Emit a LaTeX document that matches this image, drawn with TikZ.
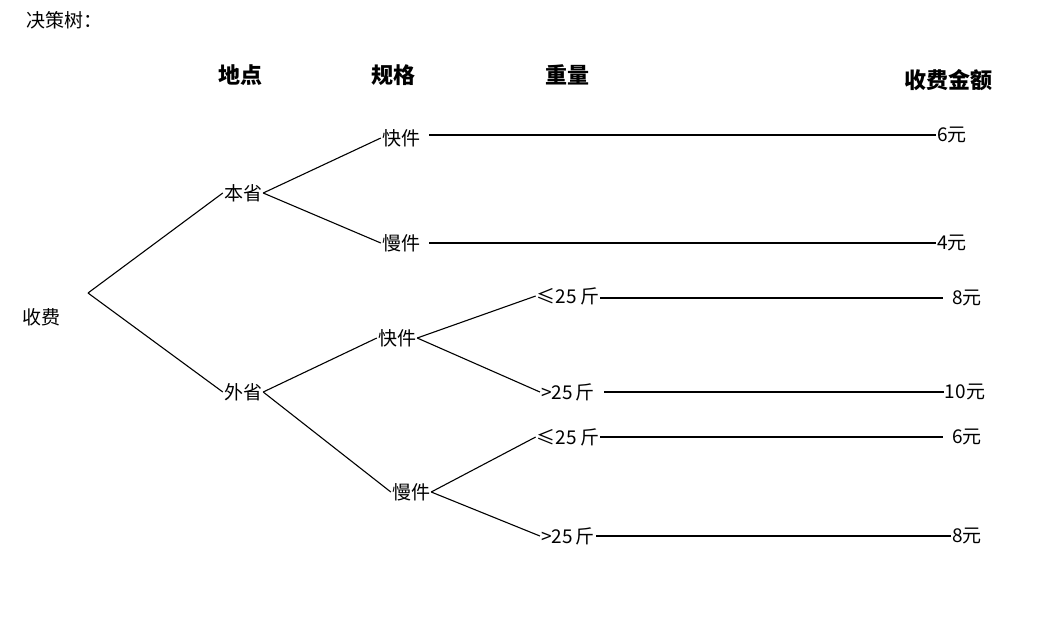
\documentclass[tikz,border=0pt]{standalone}
\usepackage{fontspec}
\setmainfont{Liberation Serif}
\newfontfamily\cjk{Noto Sans CJK SC}
\begin{document}
\begin{tikzpicture}[x=1pt,y=-1pt,
  t/.style={font=\cjk\fontsize{19}{20}\selectfont,inner sep=1pt},
  h/.style={font=\cjk\bfseries\fontsize{22}{24}\selectfont,inner sep=1pt},
  n/.style={font=\fontsize{19}{20}\selectfont,inner sep=1pt},
  l/.style={line width=1.1pt}]
\useasboundingbox (0,0) rectangle (1063,625);
\node[t] (title) at (65,20) {决策树：};
\node[h] (hd) at (240,75) {地点};
\node[h] (hg) at (393,75) {规格};
\node[h] (hw) at (567,75) {重量};
\node[h] (hm) at (948,80) {收费金额};
\node[t] (sf) at (42,317) {收费};
\node[t] (bs) at (243,193) {本省};
\node[t] (ws) at (243,392) {外省};
\node[t] (k1) at (401,138) {快件};
\node[t] (m1) at (401,243) {慢件};
\node[t] (k2) at (397,338) {快件};
\node[t] (m2) at (411,492) {慢件};
\node[t] (w1) at (568,296) {≤25\,斤};
\node[t] (w2) at (568,392) {>25\,斤};
\node[t] (w3) at (568,437) {≤25\,斤};
\node[t] (w4) at (568,536) {>25\,斤};
\node[t] (a1) at (952,135) {6元};
\node[t] (a2) at (952,243) {4元};
\node[t] (a3) at (967,298) {8元};
\node[t] (a4) at (965,392) {10元};
\node[t] (a5) at (967,437) {6元};
\node[t] (a6) at (967,536) {8元};
\coordinate (r) at (88,293);
\draw[l] (r) -- (bs.west);
\draw[l] (r) -- (ws.west);
\draw[l] (bs.east) -- (k1.west);
\draw[l] (bs.east) -- (m1.west);
\draw[l] (ws.east) -- (k2.west);
\draw[l] (ws.east) -- (m2.west);
\draw[l] (k2.east) -- (w1.west);
\draw[l] (k2.east) -- (w2.west);
\draw[l] (m2.east) -- (w3.west);
\draw[l] (m2.east) -- (w4.west);
\draw[l] ([xshift=8pt]k1.east |- a1.west) -- (a1.west);
\draw[l] ([xshift=8pt]m1.east |- a2.west) -- (a2.west);
\draw[l] (w1.east |- a3.west) -- ([xshift=-8pt]a3.west);
\draw[l] ([xshift=8pt]w2.east |- a4.west) -- (a4.west);
\draw[l] (w3.east |- a5.west) -- ([xshift=-8pt]a5.west);
\draw[l] (w4.east |- a6.west) -- (a6.west);
\end{tikzpicture}
\end{document}
